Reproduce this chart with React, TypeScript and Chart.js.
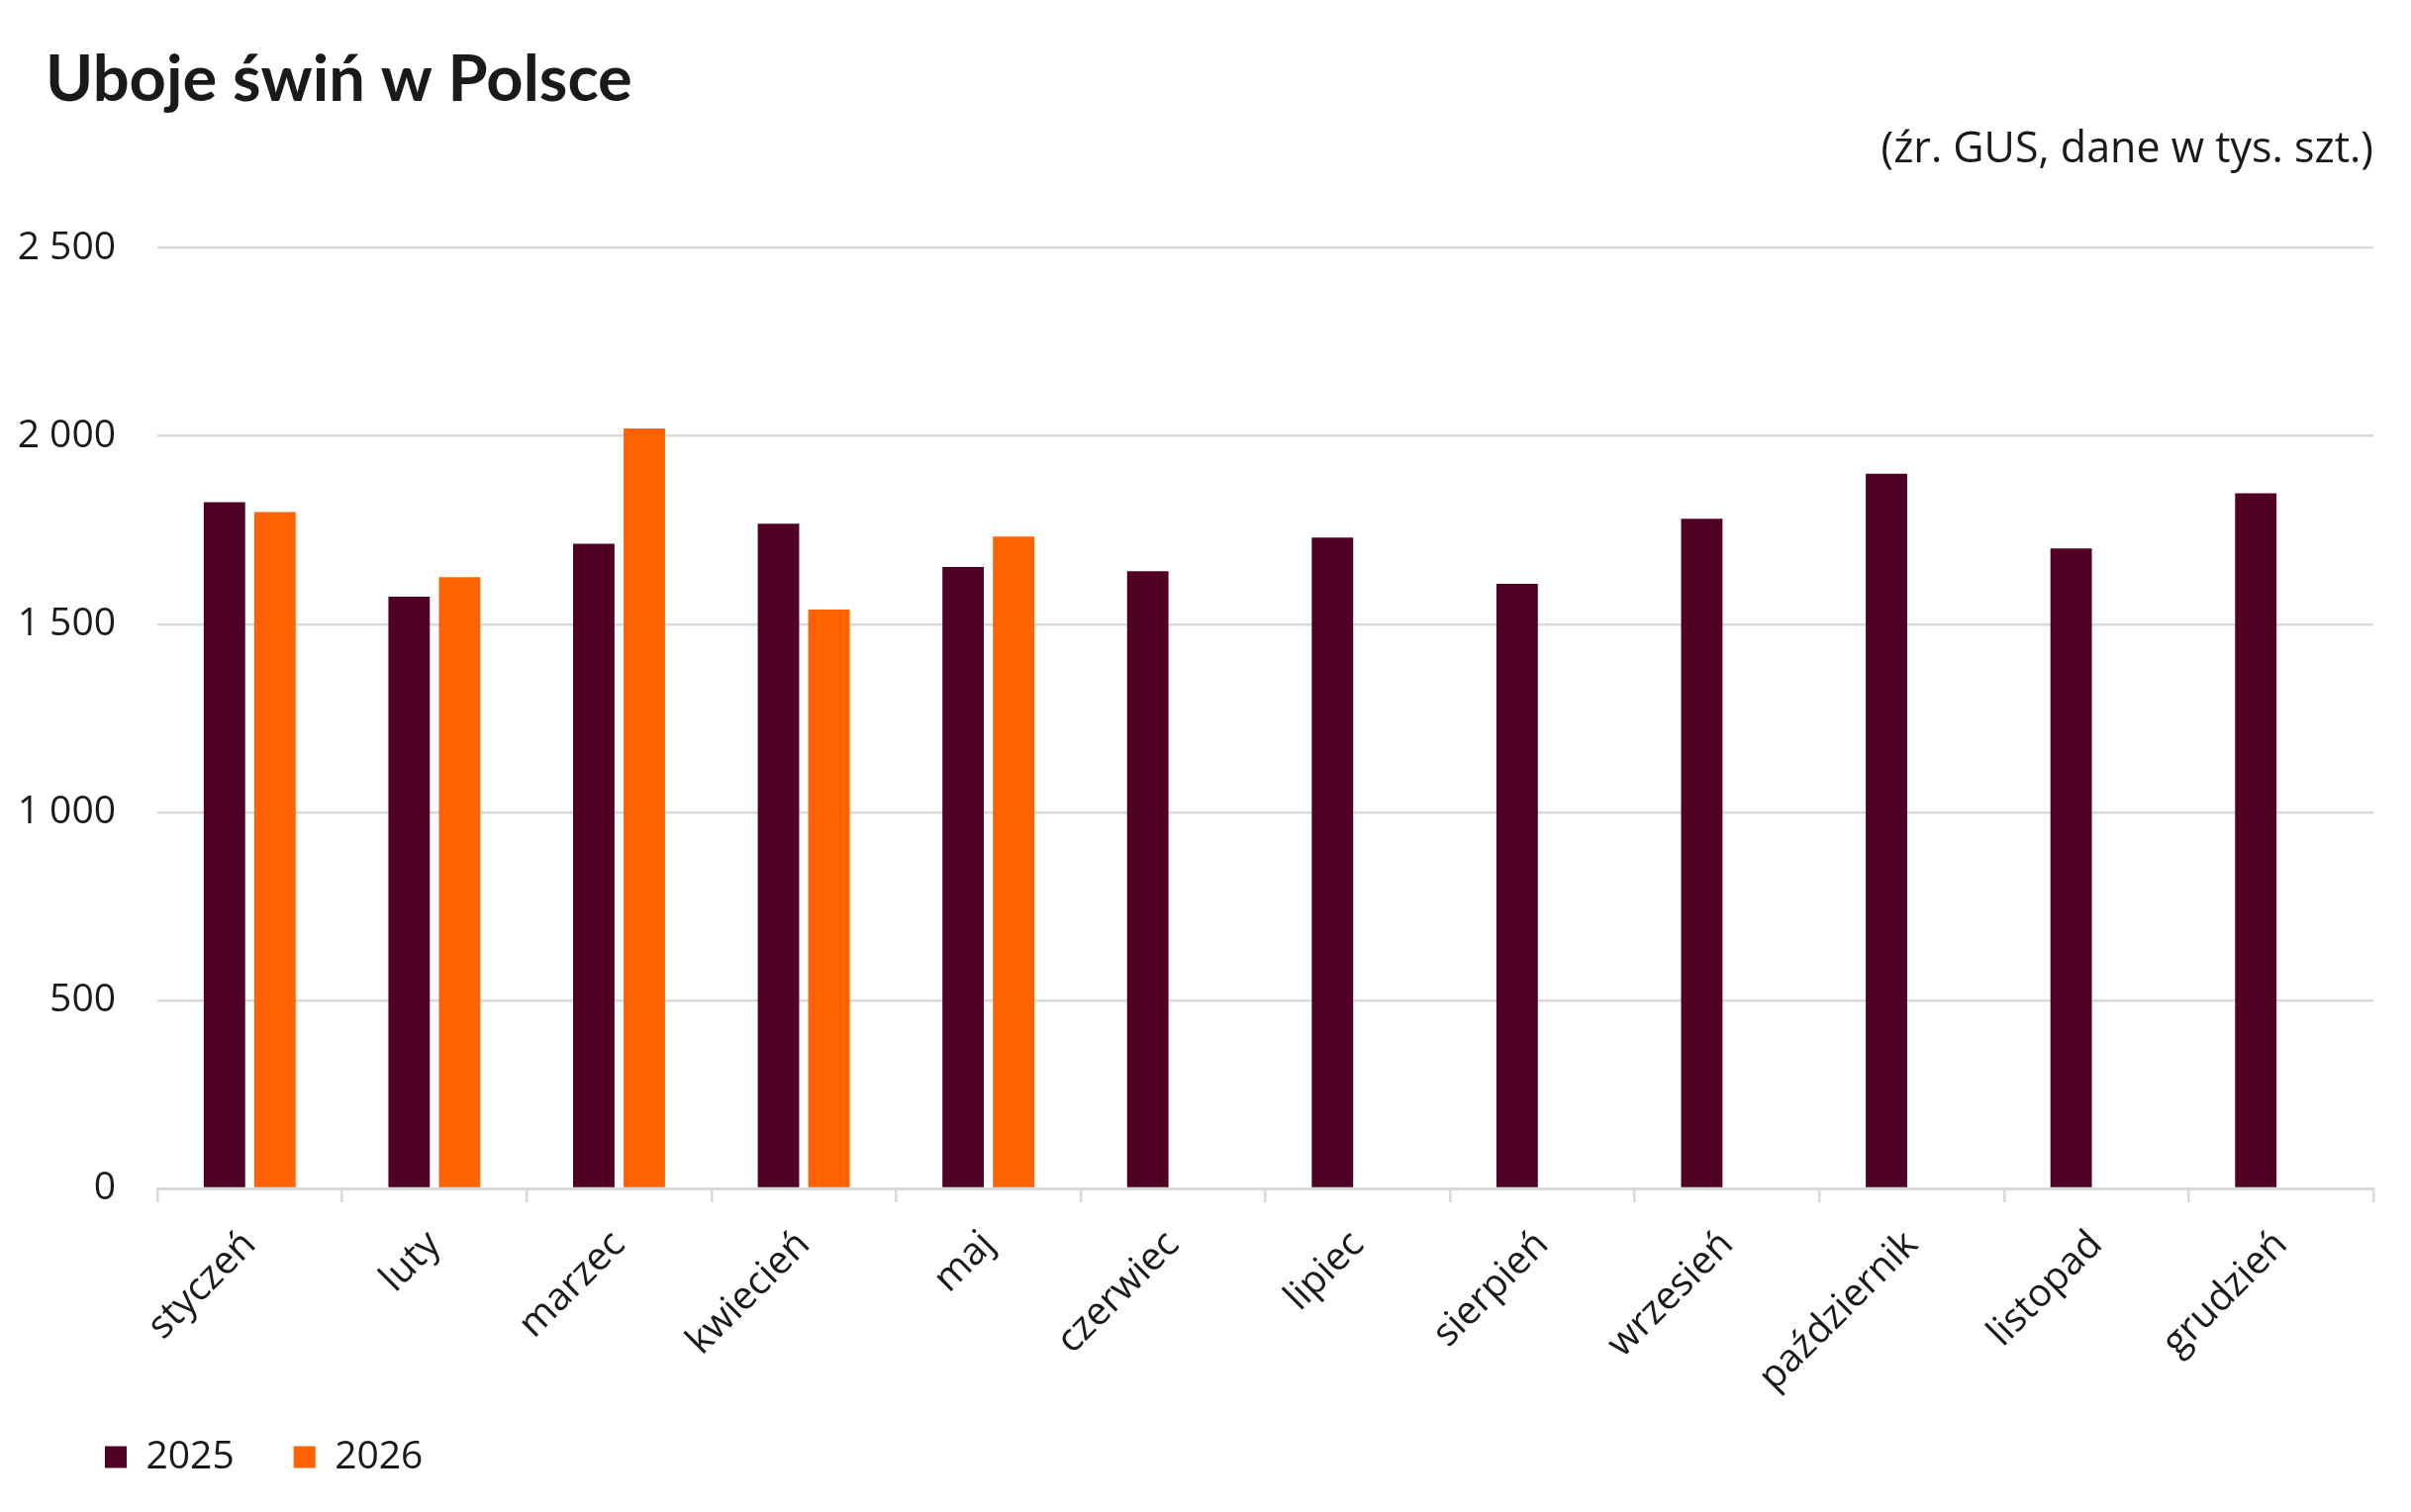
import { useEffect, useRef } from 'react'
import { Chart, registerables } from 'chart.js'

Chart.register(...registerables)

const months = [
  'styczeń',
  'luty',
  'marzec',
  'kwiecień',
  'maj',
  'czerwiec',
  'lipiec',
  'sierpień',
  'wrzesień',
  'październik',
  'listopad',
  'grudzień',
]
const slaughter2025 = [1824, 1573, 1714, 1767, 1652, 1641, 1730, 1607, 1780, 1900, 1701, 1848]
const slaughter2026 = [1798, 1625, 2020, 1539, 1733, null, null, null, null, null, null, null]
const yTicks = [0, 500, 1000, 1500, 2000, 2500]

const MAROON = '#500022'
const ORANGE = '#ff6200'
const GRID = '#d9d9d9'
const TEXT = '#1a1a1a'
const FONT = "'Open Sans', sans-serif"

// thousands with a space, e.g. 2 500
const fmt = (v: number) => String(v).replace(/\B(?=(\d{3})+(?!\d))/g, ' ')

// axis boxes are sized tightly, so let the tick labels spill out of them instead of being clipped
const unclipLabels = {
  id: 'unclipLabels',
  afterLayout(chart: Chart) {
    chart.scales.y.left = 0
    chart.scales.x.bottom = chart.height
  },
}

const PigChart = () => {
  const canvasRef = useRef<HTMLCanvasElement>(null)

  useEffect(() => {
    const chart = new Chart(canvasRef.current!, {
      type: 'bar',
      data: {
        labels: months,
        datasets: [
          {
            label: '2025',
            data: slaughter2025,
            backgroundColor: MAROON,
            categoryPercentage: 0.547,
            barPercentage: 0.82,
          },
          {
            label: '2026',
            data: slaughter2026,
            backgroundColor: ORANGE,
            categoryPercentage: 0.547,
            barPercentage: 0.82,
          },
        ],
      },
      options: {
        animation: false,
        responsive: true,
        maintainAspectRatio: false,
        layout: {
          padding: { left: 46, right: 38, top: 0, bottom: 26 },
        },
        scales: {
          x: {
            grid: {
              offset: true,
              drawOnChartArea: false,
              drawTicks: true,
              tickLength: 14,
              color: GRID,
              lineWidth: 2.5,
            },
            border: { display: true, color: GRID, width: 3 },
            ticks: {
              autoSkip: false,
              minRotation: 45,
              maxRotation: 45,
              padding: 20,
              color: TEXT,
              font: { family: FONT, size: 39 },
            },
            afterFit: (scale) => {
              scale.height = 192
            },
          },
          y: {
            min: yTicks[0],
            max: yTicks[yTicks.length - 1],
            afterBuildTicks: (scale) => {
              scale.ticks = yTicks.map((value) => ({ value }))
            },
            grid: {
              color: GRID,
              lineWidth: 2.5,
              drawTicks: false,
            },
            border: { display: false },
            ticks: {
              padding: 42,
              color: TEXT,
              font: { family: FONT, size: 39 },
              callback: (value) => fmt(Number(value)),
            },
            afterFit: (scale) => {
              scale.width = 113
            },
          },
        },
        plugins: {
          title: {
            display: true,
            text: 'Uboje świń w Polsce',
            align: 'start',
            color: TEXT,
            font: { family: 'Lato', size: 65, weight: 'bold', lineHeight: 1.2 },
            padding: { top: 42, bottom: 0 },
          },
          subtitle: {
            display: true,
            text: '(źr. GUS, dane w tys. szt.)',
            align: 'end',
            color: TEXT,
            font: { family: FONT, size: 43, lineHeight: 1.2 },
            padding: { top: 6, bottom: 73 },
          },
          legend: {
            display: true,
            position: 'bottom',
            align: 'start',
            labels: {
              boxWidth: 22,
              boxHeight: 22,
              padding: 60,
              color: TEXT,
              font: { family: FONT, size: 39 },
            },
          },
          tooltip: { enabled: false },
        },
      },
      plugins: [unclipLabels],
    })

    return () => chart.destroy()
  }, [])

  return (
    <div style={{ position: 'absolute', left: 0, top: 0, width: 2436, height: 1528, background: '#fff' }}>
      <canvas ref={canvasRef}></canvas>
    </div>
  )
}

export default function App() {
  return <PigChart />
}
